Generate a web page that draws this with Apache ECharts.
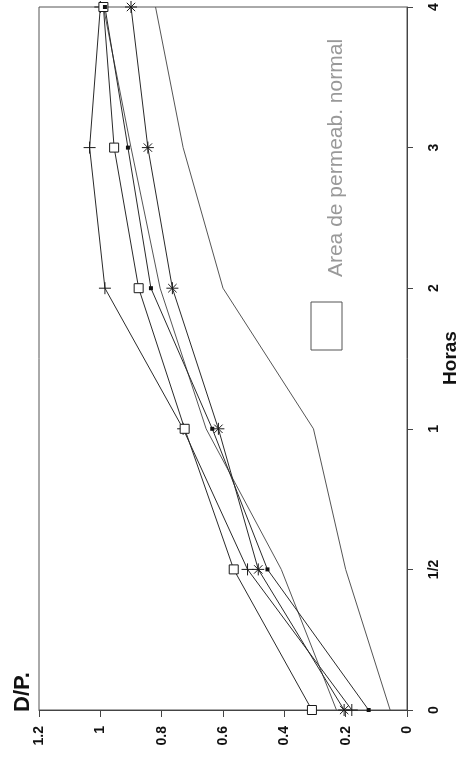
<!DOCTYPE html>
<html>
<head>
<meta charset="utf-8">
<script src="https://cdn.jsdelivr.net/npm/echarts@6/dist/echarts.min.js"></script>
<style>
html,body{margin:0;padding:0;background:#fff;}
#chart{width:462px;height:763px;}
</style>
</head>
<body>
<div id="chart"></div>
<script>
// Hours (category axis) and D/P values
const hours = ['0', '1/2', '1', '2', '3', '4'];
const plusValues   = [0.18, 0.52, 0.73, 0.985, 1.035, 1.0];
const squareValues = [0.31, 0.565, 0.725, 0.875, 0.955, 0.99];
const dotValues    = [0.125, 0.455, 0.635, 0.835, 0.91, 0.985];
const starValues   = [0.205, 0.485, 0.615, 0.765, 0.845, 0.90];
const normalUpper  = [0.23, 0.41, 0.655, 0.805, 0.90, 0.99];
const normalLower  = [0.055, 0.2, 0.305, 0.6, 0.73, 0.82];
const dpMin = 0, dpMax = 1.2, dpStep = 0.2;
const yTitle = 'D/P.';
const xTitle = 'Horas';
const legendLabel = 'Area de permeab. normal';

const toData = vals => vals.map((v, i) => [v, hours[i]]);

const plusPath = 'path://M0,5L10,5M5,0L5,10';
const starPath = 'path://M5,0L5,10M0,5L10,5M1.5,1.5L8.5,8.5M8.5,1.5L1.5,8.5';

function lineSeries(name, vals, symbol, size, opts) {
  return Object.assign({
    name: name,
    type: 'line',
    data: toData(vals),
    symbol: symbol,
    symbolSize: size,
    symbolKeepAspect: true,
    showSymbol: symbol !== 'none',
    lineStyle: { color: '#2a2a2a', width: 1 },
    itemStyle: { color: 'rgba(0,0,0,0)', borderColor: '#1a1a1a', borderWidth: 1 },
    emphasis: { disabled: true },
    animation: false,
    z: 3
  }, opts || {});
}

const chart = echarts.init(document.getElementById('chart'), null, { renderer: 'canvas' });

const option = {
  backgroundColor: '#ffffff',
  animation: false,
  grid: {
    left: 39, right: 55, top: 7, bottom: 53,
    show: true, borderColor: '#555', borderWidth: 1, backgroundColor: 'transparent'
  },
  xAxis: {
    type: 'value',
    min: dpMin, max: dpMax, interval: dpStep,
    inverse: true,
    position: 'bottom',
    splitLine: { show: false },
    axisLine: { show: true, lineStyle: { color: '#444', width: 1 } },
    axisTick: { show: true, length: 7, lineStyle: { color: '#444' } },
    axisLabel: {
      rotate: 90, margin: 16,
      fontSize: 14, fontWeight: 'bold', color: '#111',
      fontFamily: 'Liberation Sans, Arial, sans-serif',
      formatter: v => String(Math.round(v * 10) / 10)
    }
  },
  yAxis: {
    type: 'category',
    data: hours,
    boundaryGap: false,
    position: 'right',
    splitLine: { show: false },
    axisLine: { show: true, lineStyle: { color: '#444', width: 1 } },
    axisTick: { show: true, length: 6, alignWithLabel: true, lineStyle: { color: '#444' } },
    axisLabel: {
      rotate: 90, margin: 20,
      fontSize: 14, fontWeight: 'bold', color: '#111',
      fontFamily: 'Liberation Sans, Arial, sans-serif'
    }
  },
  series: [
    lineSeries('normal lower', normalLower, 'none', 0, { lineStyle: { color: '#555', width: 1 }, z: 2 }),
    lineSeries('normal upper', normalUpper, 'none', 0, { lineStyle: { color: '#555', width: 1 }, z: 2 }),
    lineSeries('plus', plusValues, plusPath, 12),
    lineSeries('square', squareValues, 'rect', 9, { itemStyle: { color: '#fff', borderColor: '#1a1a1a', borderWidth: 1 } }),
    lineSeries('dot', dotValues, 'rect', 4, { itemStyle: { color: '#111', borderColor: '#111', borderWidth: 0 } }),
    lineSeries('star', starValues, starPath, 12)
  ],
  graphic: [
    {
      type: 'text', x: 23, y: 692, rotation: Math.PI / 2,
      style: { text: yTitle, fontSize: 22, fontWeight: 'bold', fill: '#111',
        fontFamily: 'Liberation Sans, Arial, sans-serif', align: 'center', verticalAlign: 'middle' }
    },
    {
      type: 'text', x: 451, y: 358, rotation: Math.PI / 2,
      style: { text: xTitle, fontSize: 19, fontWeight: 'bold', fill: '#111',
        fontFamily: 'Liberation Sans, Arial, sans-serif', align: 'center', verticalAlign: 'middle' }
    },
    {
      type: 'rect', shape: { x: 311, y: 302, width: 31, height: 48 },
      style: { fill: '#fff', stroke: '#555', lineWidth: 1 }
    },
    {
      type: 'text', x: 336, y: 158, rotation: Math.PI / 2,
      style: { text: legendLabel, fontSize: 21, fontWeight: 'normal', fill: '#999',
        fontFamily: 'Liberation Sans, Arial, sans-serif', align: 'center', verticalAlign: 'middle' }
    }
  ]
};

chart.setOption(option);
</script>
</body>
</html>
